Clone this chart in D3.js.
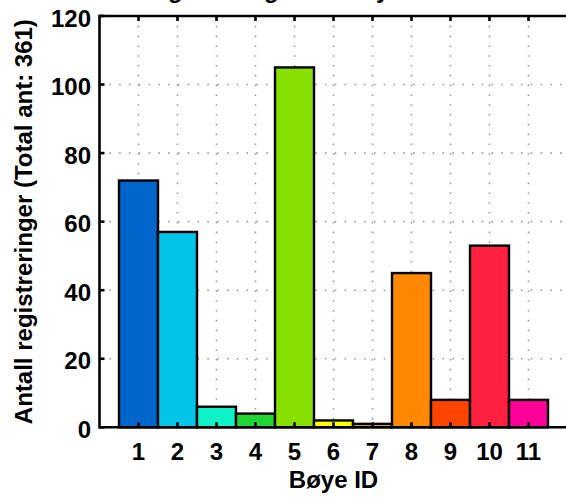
<!DOCTYPE html>
<html>
<head>
<meta charset="utf-8">
<script src="https://cdn.jsdelivr.net/npm/d3@7"></script>
<style>
  html, body { margin: 0; padding: 0; background: #fff; }
  svg { display: block; }
  text { font-family: "Liberation Sans", Arial, Helvetica, sans-serif; font-weight: bold; fill: #000; }
</style>
</head>
<body>
<svg id="chart" width="566" height="497"></svg>
<script>
const categories = [1, 2, 3, 4, 5, 6, 7, 8, 9, 10, 11];
const counts = [72, 57, 6, 4, 105, 2, 1, 45, 8, 53, 8];
const barColors = ["#0066cc", "#00c4e8", "#0ef2c8", "#22d434", "#88e000", "#ffff00",
                   "#e8a800", "#ff8800", "#ff4400", "#ff2040", "#ff0099"];
const yTicks = [0, 20, 40, 60, 80, 100, 120];
const titleText = "Antall registreringer for bøye";
const xLabel = "Bøye ID";
const yLabel = "Antall registreringer (Total ant: 361)";

const svg = d3.select("#chart");
const x = d3.scaleLinear().domain([0, 12]).range([99.5, 567.5]);
const y = d3.scaleLinear().domain([0, 120]).range([427.3, 16]);

// grid
const grid = svg.append("g").attr("stroke", "#999").attr("stroke-width", 1.6).attr("stroke-dasharray", "1.6,8.2");
grid.selectAll("line.v").data(categories).join("line")
  .attr("x1", d => x(d)).attr("x2", d => x(d))
  .attr("y1", y(120)).attr("y2", y(0));
grid.selectAll("line.h").data(yTicks.filter(t => t > 0 && t < 120)).join("line")
  .attr("x1", x(0)).attr("x2", x(12))
  .attr("y1", d => y(d)).attr("y2", d => y(d));

// bars
svg.append("g").selectAll("rect").data(categories).join("rect")
  .attr("x", (d) => x(d - 0.5))
  .attr("width", (d) => x(d + 0.5) - x(d - 0.5))
  .attr("y", (d, i) => y(counts[i]))
  .attr("height", (d, i) => y(0) - y(counts[i]))
  .attr("fill", (d, i) => barColors[i])
  .attr("stroke", "#000").attr("stroke-width", 2.4);

// axes box + ticks
const ax = svg.append("g").attr("stroke", "#000").attr("stroke-width", 2.6).attr("fill", "none");
ax.append("line").attr("x1", x(0)).attr("x2", x(12)).attr("y1", y(120)).attr("y2", y(120));
ax.append("line").attr("x1", x(0)).attr("x2", x(12)).attr("y1", y(0)).attr("y2", y(0));
ax.append("line").attr("x1", x(0)).attr("x2", x(0)).attr("y1", y(0) + 1.3).attr("y2", y(120) - 1.3);
ax.append("line").attr("x1", x(12)).attr("x2", x(12)).attr("y1", y(0)).attr("y2", y(120));
const tl = 5;
ax.selectAll("line.tt").data(categories).join("line")
  .attr("x1", d => x(d)).attr("x2", d => x(d)).attr("y1", y(120)).attr("y2", y(120) + tl);
ax.selectAll("line.tb").data(categories).join("line")
  .attr("x1", d => x(d)).attr("x2", d => x(d)).attr("y1", y(0)).attr("y2", y(0) - tl);
ax.selectAll("line.tl").data(yTicks).join("line")
  .attr("x1", x(0)).attr("x2", x(0) + tl).attr("y1", d => y(d)).attr("y2", d => y(d));

// tick labels
svg.append("g").selectAll("text").data(yTicks).join("text")
  .attr("x", 91).attr("y", d => y(d) + 10.6)
  .attr("text-anchor", "end").attr("font-size", 24)
  .text(d => d);
svg.append("g").selectAll("text").data(categories).join("text")
  .attr("x", d => x(d)).attr("y", y(0) + 32.7)
  .attr("text-anchor", "middle").attr("font-size", 24)
  .text(d => d);

// labels
svg.append("text").attr("x", (x(0) + x(12)) / 2).attr("y", 488)
  .attr("text-anchor", "middle").attr("font-size", 24).text(xLabel);
svg.append("text").attr("transform", `translate(32,${(y(0) + y(120)) / 2}) rotate(-90)`)
  .attr("text-anchor", "middle").attr("font-size", 24).text(yLabel);
svg.append("text").attr("x", 72).attr("y", -2)
  .attr("font-size", 24).text(titleText);
</script>
</body>
</html>
